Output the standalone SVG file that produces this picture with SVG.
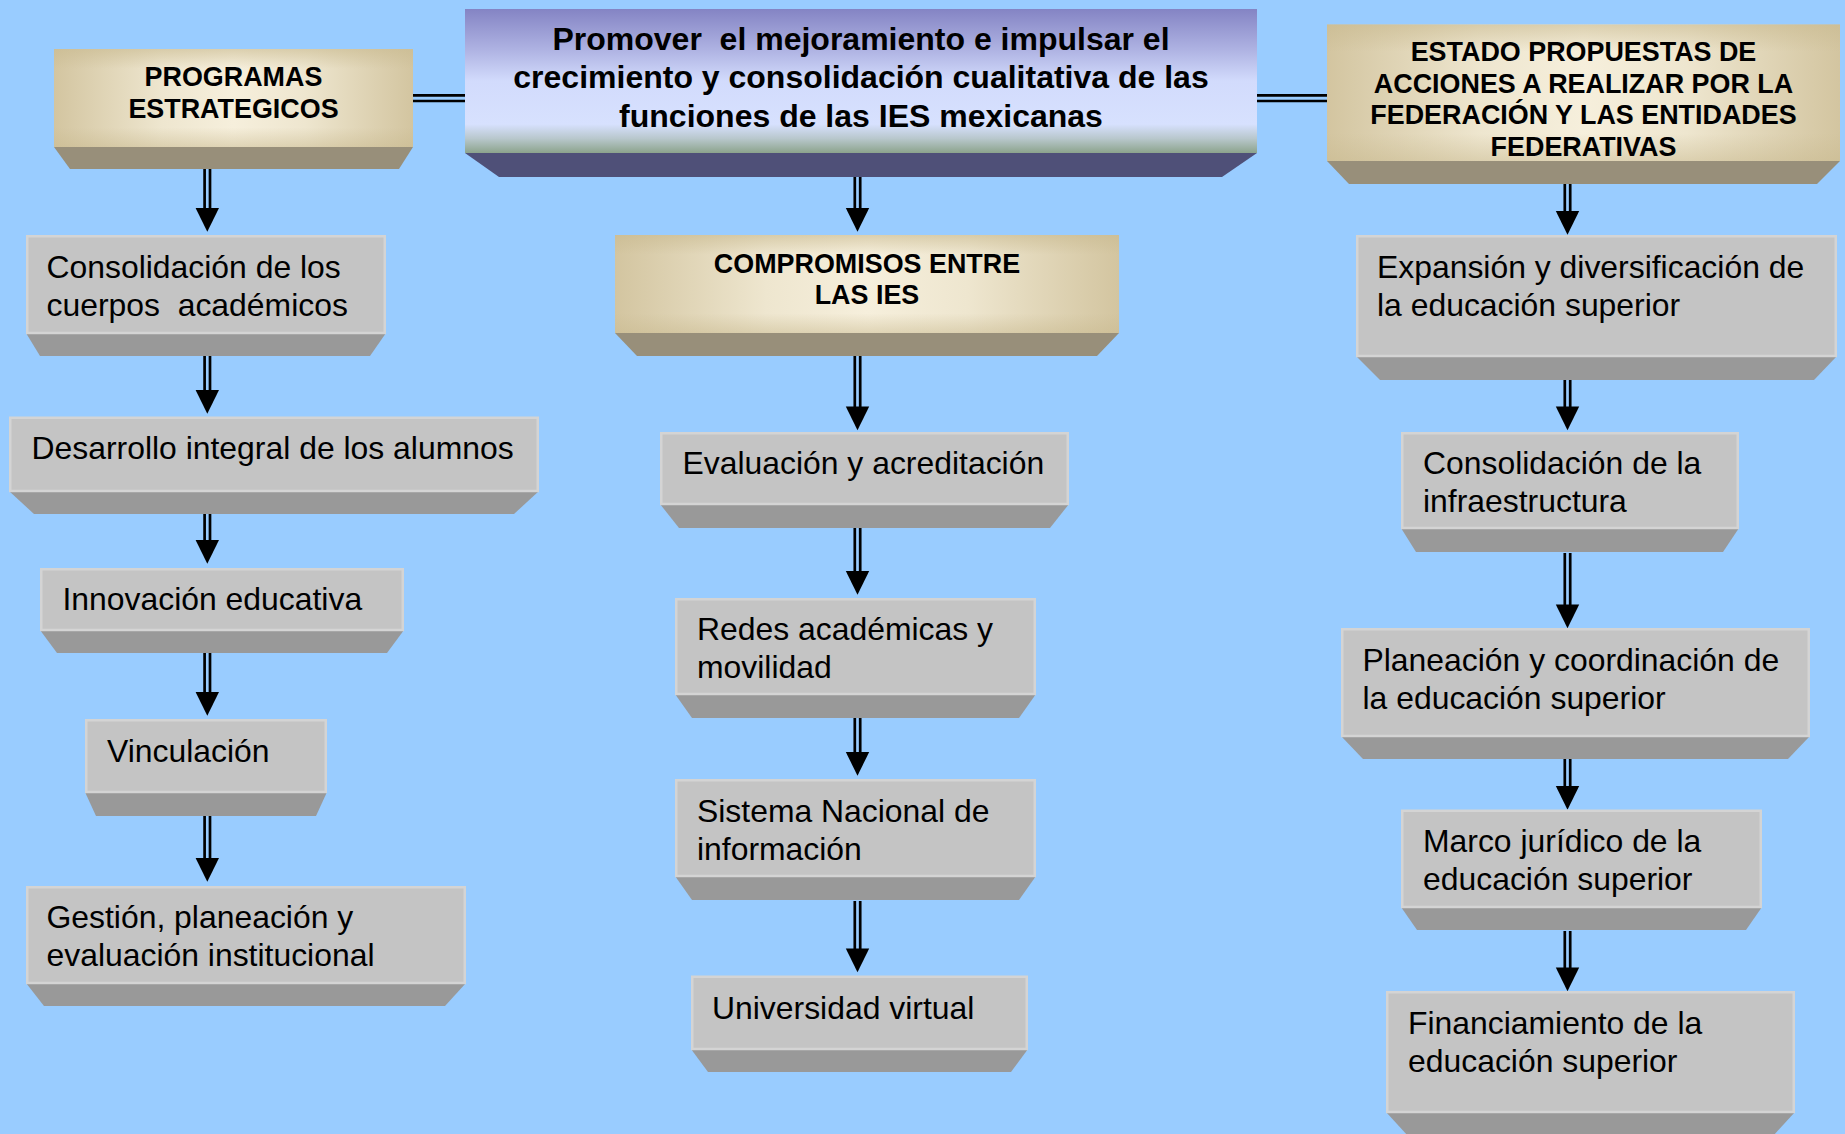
<svg xmlns="http://www.w3.org/2000/svg" xmlns:xlink="http://www.w3.org/1999/xlink" width="1845" height="1134" viewBox="0 0 1845 1134">
<defs>
<style>
.face{fill:#C4C4C4;stroke:#D4D4D4;stroke-width:2.5}
.bev{fill:#999999}
.tbev{fill:#988F7A}
.t{font-family:"Liberation Sans",Arial,sans-serif;font-size:31.9px;fill:#000;white-space:pre}
.h{font-family:"Liberation Sans",Arial,sans-serif;font-size:26.9px;font-weight:bold;fill:#000;text-anchor:middle;white-space:pre}
.m{font-family:"Liberation Sans",Arial,sans-serif;font-size:32px;font-weight:bold;fill:#000;text-anchor:middle;white-space:pre}
.shaft{fill:none;stroke:#000;stroke-width:2.7}
</style>
<linearGradient id="tanH" x1="0" y1="0" x2="1" y2="0">
<stop offset="0" stop-color="#D3C5A0"/>
<stop offset="0.3" stop-color="#EEE6CF"/>
<stop offset="0.5" stop-color="#F6EFDC"/>
<stop offset="0.7" stop-color="#EEE6CF"/>
<stop offset="1" stop-color="#D3C5A0"/>
</linearGradient>
<linearGradient id="tanV" x1="0" y1="0" x2="0" y2="1">
<stop offset="0" stop-color="#C9BA90" stop-opacity="0.6"/>
<stop offset="0.2" stop-color="#C9BA90" stop-opacity="0"/>
<stop offset="0.8" stop-color="#C9BA90" stop-opacity="0"/>
<stop offset="1" stop-color="#C9BA90" stop-opacity="0.5"/>
</linearGradient>
<linearGradient id="mainG" x1="0" y1="0" x2="0" y2="1">
<stop offset="0" stop-color="#8484C4"/>
<stop offset="0.28" stop-color="#AEB2E2"/>
<stop offset="0.5" stop-color="#D2DBFC"/>
<stop offset="0.8" stop-color="#D7E1FE"/>
<stop offset="0.9" stop-color="#B8C7CC"/>
<stop offset="1" stop-color="#8CA38C"/>
</linearGradient>
<polygon id="head" points="-11.7,0 11.7,0 0,23.7" fill="#000"/>
</defs>
<rect x="0" y="0" width="1845" height="1134" fill="#99CCFF"/>

<g id="connectors">
<path class="shaft" d="M413 95.3H465M413 101H465M1257 95.3H1327M1257 101H1327"/>
<path class="shaft" d="M204.6 160V209M210 160V209M204.6 342V391M210 342V391M204.6 493V541M210 493V541M204.6 643V693M210 643V693M204.6 810V859M210 810V859"/>
<use xlink:href="#head" x="207.3" y="208"/>
<use xlink:href="#head" x="207.3" y="390"/>
<use xlink:href="#head" x="207.3" y="540"/>
<use xlink:href="#head" x="207.3" y="692"/>
<use xlink:href="#head" x="207.3" y="858"/>
<path class="shaft" d="M854.8 160V209M860.2 160V209M854.8 348V407M860.2 348V407M854.8 528V572M860.2 528V572M854.8 704V753M860.2 704V753M854.8 901V950M860.2 901V950"/>
<use xlink:href="#head" x="857.5" y="208"/>
<use xlink:href="#head" x="857.5" y="406.5"/>
<use xlink:href="#head" x="857.5" y="571"/>
<use xlink:href="#head" x="857.5" y="752"/>
<use xlink:href="#head" x="857.5" y="948.5"/>
<path class="shaft" d="M1564.8 176V212M1570.2 176V212M1564.8 372V407M1570.2 372V407M1564.8 553V605M1570.2 553V605M1564.8 750V787M1570.2 750V787M1564.8 931V968M1570.2 931V968"/>
<use xlink:href="#head" x="1567.5" y="211"/>
<use xlink:href="#head" x="1567.5" y="406.5"/>
<use xlink:href="#head" x="1567.5" y="604.5"/>
<use xlink:href="#head" x="1567.5" y="786"/>
<use xlink:href="#head" x="1567.5" y="967.5"/>
</g>

<g id="main">
<polygon points="465,153 1257,153 1222,177 499,177" fill="#4F5078"/>
<rect x="465" y="9" width="792" height="144" fill="url(#mainG)"/>
<text class="m" x="861" y="49.5">Promover  el mejoramiento e impulsar el</text>
<text class="m" x="861" y="88">crecimiento y consolidación cualitativa de las</text>
<text class="m" x="861" y="126.5">funciones de las IES mexicanas</text>
</g>

<g id="programas">
<polygon class="tbev" points="54,147 413,147 399,169 70,169"/>
<rect x="54" y="49" width="359" height="98" fill="url(#tanH)"/>
<rect x="54" y="49" width="359" height="98" fill="url(#tanV)"/>
<text class="h" x="233.5" y="86">PROGRAMAS</text>
<text class="h" x="233.5" y="117.5">ESTRATEGICOS</text>
</g>

<g id="compromisos">
<polygon class="tbev" points="615,333 1119,333 1097,356 637,356"/>
<rect x="615" y="235" width="504" height="98" fill="url(#tanH)"/>
<rect x="615" y="235" width="504" height="98" fill="url(#tanV)"/>
<text class="h" x="867" y="272.5">COMPROMISOS ENTRE</text>
<text class="h" x="867" y="304">LAS IES</text>
</g>

<g id="estado">
<polygon class="tbev" points="1327,161 1840,161 1817,184 1349,184"/>
<rect x="1327" y="24.5" width="513" height="136.5" fill="url(#tanH)"/>
<rect x="1327" y="24.5" width="513" height="136.5" fill="url(#tanV)"/>
<text class="h" x="1583.5" y="61">ESTADO PROPUESTAS DE</text>
<text class="h" x="1583.5" y="92.5">ACCIONES A REALIZAR POR LA</text>
<text class="h" x="1583.5" y="124">FEDERACIÓN Y LAS ENTIDADES</text>
<text class="h" x="1583.5" y="155.5">FEDERATIVAS</text>
</g>

<g id="consolidacion-cuerpos">
<polygon class="bev" points="26,333 386,333 370,356 40,356"/>
<rect class="face" x="27.25" y="236.25" width="357.5" height="96.75"/>
<text class="t" x="46.5" y="278">Consolidación de los</text>
<text class="t" x="46.5" y="315.5">cuerpos  académicos</text>
</g>

<g id="desarrollo">
<polygon class="bev" points="9,491 539,491 514,514 34,514"/>
<rect class="face" x="10.25" y="417.75" width="527.5" height="73.25"/>
<text class="t" x="31.5" y="459">Desarrollo integral de los alumnos</text>
</g>

<g id="innovacion">
<polygon class="bev" points="40,630 404,630 387,653 57,653"/>
<rect class="face" x="41.25" y="569.25" width="361.5" height="60.75"/>
<text class="t" x="62.5" y="609.5">Innovación educativa</text>
</g>

<g id="vinculacion">
<polygon class="bev" points="85,792 327,792 316,816 96,816"/>
<rect class="face" x="86.25" y="720.25" width="239.5" height="71.75"/>
<text class="t" x="107" y="762">Vinculación</text>
</g>

<g id="gestion">
<polygon class="bev" points="26,983 466,983 445,1006 44,1006"/>
<rect class="face" x="27.25" y="887.25" width="437.5" height="95.75"/>
<text class="t" x="46.5" y="928">Gestión, planeación y</text>
<text class="t" x="46.5" y="965.5">evaluación institucional</text>
</g>

<g id="evaluacion">
<polygon class="bev" points="660,504 1069,504 1050,528 679,528"/>
<rect class="face" x="661.25" y="433.25" width="406.5" height="70.75"/>
<text class="t" x="682.5" y="474">Evaluación y acreditación</text>
</g>

<g id="redes">
<polygon class="bev" points="675,694 1036,694 1019,718 692,718"/>
<rect class="face" x="676.25" y="599.25" width="358.5" height="94.75"/>
<text class="t" x="697" y="640">Redes académicas y</text>
<text class="t" x="697" y="678">movilidad</text>
</g>

<g id="sistema">
<polygon class="bev" points="675,876 1036,876 1019,900 692,900"/>
<rect class="face" x="676.25" y="780.25" width="358.5" height="95.75"/>
<text class="t" x="697" y="822">Sistema Nacional de</text>
<text class="t" x="697" y="860">información</text>
</g>

<g id="universidad">
<polygon class="bev" points="691,1049 1028,1049 1011,1072 708,1072"/>
<rect class="face" x="692.25" y="976.75" width="334.5" height="72.25"/>
<text class="t" x="712" y="1018.5">Universidad virtual</text>
</g>

<g id="expansion">
<polygon class="bev" points="1356,356 1837,356 1814,380 1380,380"/>
<rect class="face" x="1357.25" y="236.25" width="478.5" height="119.75"/>
<text class="t" x="1377" y="277.5">Expansión y diversificación de</text>
<text class="t" x="1377" y="315.5">la educación superior</text>
</g>

<g id="infraestructura">
<polygon class="bev" points="1401,528 1739,528 1723,552 1416,552"/>
<rect class="face" x="1402.25" y="433.25" width="335.5" height="94.75"/>
<text class="t" x="1423" y="474">Consolidación de la</text>
<text class="t" x="1423" y="512">infraestructura</text>
</g>

<g id="planeacion">
<polygon class="bev" points="1341,736 1810,736 1788,759 1363,759"/>
<rect class="face" x="1342.25" y="629.25" width="466.5" height="106.75"/>
<text class="t" x="1362.5" y="671">Planeación y coordinación de</text>
<text class="t" x="1362.5" y="709">la educación superior</text>
</g>

<g id="marco">
<polygon class="bev" points="1401,907 1762,907 1746,930 1417,930"/>
<rect class="face" x="1402.25" y="810.75" width="358.5" height="96.25"/>
<text class="t" x="1423" y="852">Marco jurídico de la</text>
<text class="t" x="1423" y="890">educación superior</text>
</g>

<g id="financiamiento">
<polygon class="bev" points="1386,1112 1795,1112 1773,1136 1408,1136"/>
<rect class="face" x="1387.25" y="992.25" width="406.5" height="119.75"/>
<text class="t" x="1408" y="1034">Financiamiento de la</text>
<text class="t" x="1408" y="1072">educación superior</text>
</g>
</svg>
